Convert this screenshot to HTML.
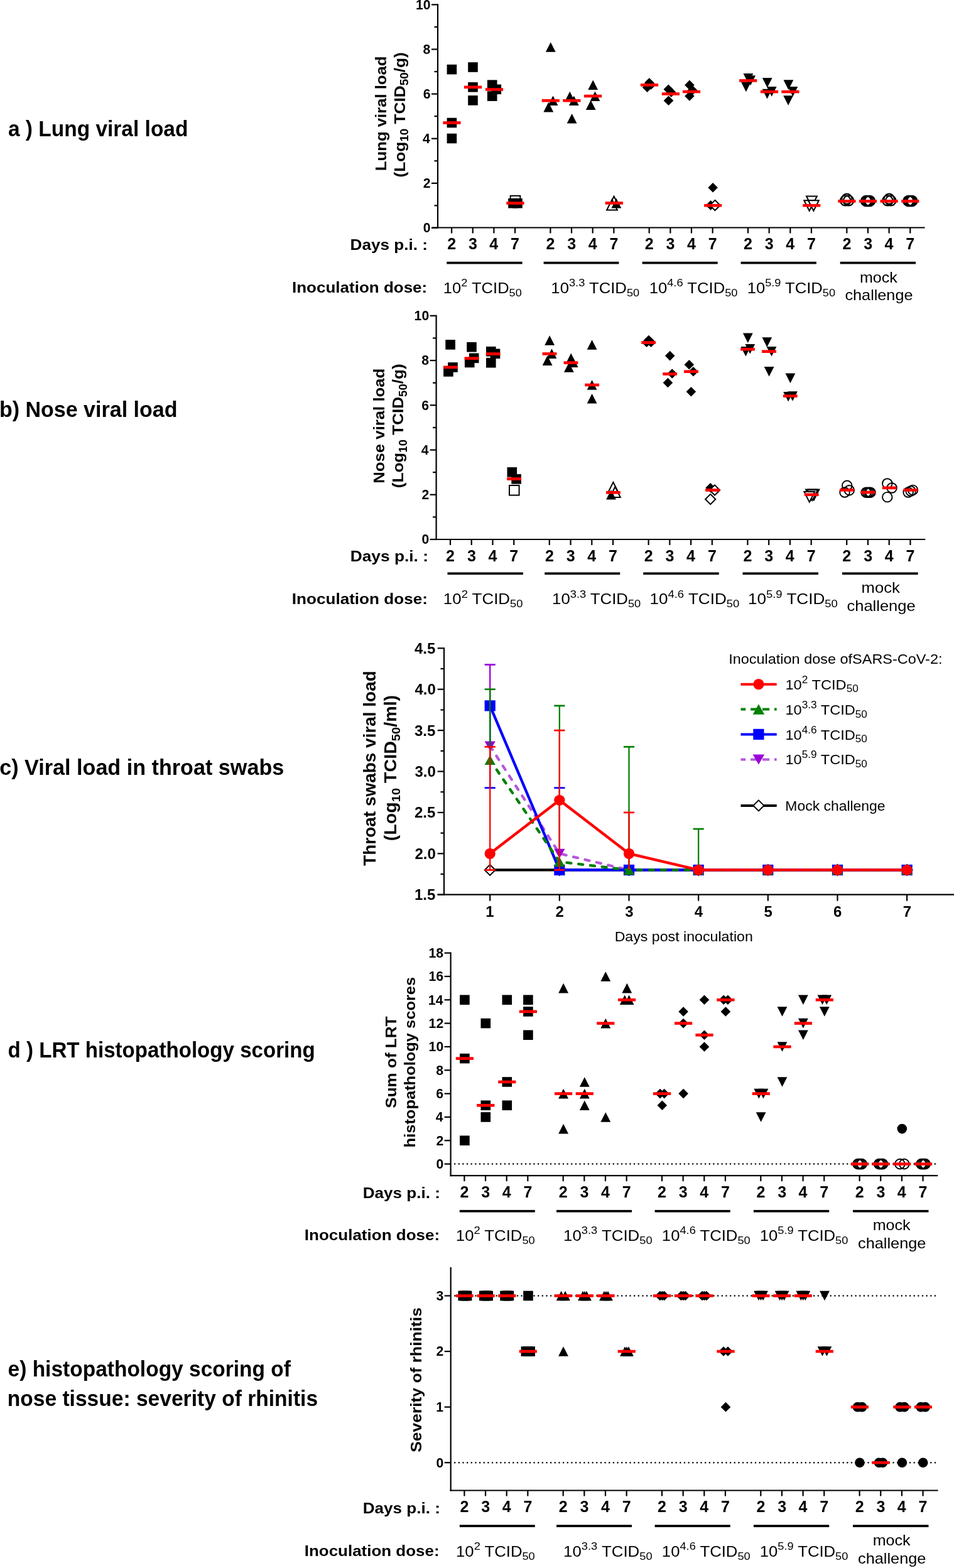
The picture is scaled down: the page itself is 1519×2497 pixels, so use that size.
<!DOCTYPE html>
<html><head><meta charset="utf-8"><title>Figure</title>
<style>
html,body{margin:0;padding:0;background:#fff;}
body{width:1519px;height:2497px;overflow:hidden;}
svg{display:block;}
svg text{font-family:"Liberation Sans", Arial, Helvetica, sans-serif;fill:#000;}
</style></head><body>
<svg width="1519" height="2497" viewBox="0 0 1519 2497">
<rect width="1519" height="2497" fill="#fff"/>
<text x="12.9" y="217.4" font-size="35" font-weight="bold" textLength="286.54" lengthAdjust="spacingAndGlyphs">a ) Lung viral load</text>
<text x="-1.11" y="663.8" font-size="35" font-weight="bold" textLength="283.64" lengthAdjust="spacingAndGlyphs">b) Nose viral load</text>
<text x="-0.77" y="1233.9" font-size="35" font-weight="bold" textLength="453.03" lengthAdjust="spacingAndGlyphs">c) Viral load in throat swabs</text>
<text x="12.58" y="1684" font-size="35" font-weight="bold" textLength="489.15" lengthAdjust="spacingAndGlyphs">d ) LRT histopathology scoring</text>
<text x="12.56" y="2192.3" font-size="35" font-weight="bold" textLength="450.43" lengthAdjust="spacingAndGlyphs">e) histopathology scoring of</text>
<text x="11.72" y="2239.1" font-size="35" font-weight="bold" textLength="494.39" lengthAdjust="spacingAndGlyphs">nose tissue: severity of rhinitis</text>
<line x1="697" y1="6.3" x2="697" y2="363.6" stroke="#000" stroke-width="2.2" />
<line x1="687" y1="362.5" x2="1472.6" y2="362.5" stroke="#000" stroke-width="2.2" />
<line x1="687" y1="362.9" x2="697" y2="362.9" stroke="#000" stroke-width="2.2" />
<text x="673.78" y="370.32" font-size="21.2" font-weight="bold" textLength="11.79" lengthAdjust="spacingAndGlyphs">0</text>
<line x1="687" y1="291.8" x2="697" y2="291.8" stroke="#000" stroke-width="2.2" />
<text x="673.78" y="299.22" font-size="21.2" font-weight="bold" textLength="11.79" lengthAdjust="spacingAndGlyphs">2</text>
<line x1="687" y1="220.7" x2="697" y2="220.7" stroke="#000" stroke-width="2.2" />
<text x="673.04" y="228.12" font-size="21.2" font-weight="bold" textLength="11.79" lengthAdjust="spacingAndGlyphs">4</text>
<line x1="687" y1="149.6" x2="697" y2="149.6" stroke="#000" stroke-width="2.2" />
<text x="673.68" y="157.02" font-size="21.2" font-weight="bold" textLength="11.79" lengthAdjust="spacingAndGlyphs">6</text>
<line x1="687" y1="78.5" x2="697" y2="78.5" stroke="#000" stroke-width="2.2" />
<text x="673.57" y="85.92" font-size="21.2" font-weight="bold" textLength="11.79" lengthAdjust="spacingAndGlyphs">8</text>
<line x1="687" y1="7.4" x2="697" y2="7.4" stroke="#000" stroke-width="2.2" />
<text x="662.02" y="14.82" font-size="21.2" font-weight="bold" textLength="23.58" lengthAdjust="spacingAndGlyphs">10</text>
<line x1="691.5" y1="327.35" x2="697" y2="327.35" stroke="#000" stroke-width="2.2" />
<line x1="691.5" y1="256.25" x2="697" y2="256.25" stroke="#000" stroke-width="2.2" />
<line x1="691.5" y1="185.15" x2="697" y2="185.15" stroke="#000" stroke-width="2.2" />
<line x1="691.5" y1="114.05" x2="697" y2="114.05" stroke="#000" stroke-width="2.2" />
<line x1="691.5" y1="42.95" x2="697" y2="42.95" stroke="#000" stroke-width="2.2" />
<line x1="719.1" y1="362.5" x2="719.1" y2="371.5" stroke="#000" stroke-width="2.2" />
<text x="712.23" y="397" font-size="25" font-weight="bold" textLength="13.9" lengthAdjust="spacingAndGlyphs">2</text>
<line x1="752.75" y1="362.5" x2="752.75" y2="371.5" stroke="#000" stroke-width="2.2" />
<text x="745.94" y="397" font-size="25" font-weight="bold" textLength="13.9" lengthAdjust="spacingAndGlyphs">3</text>
<line x1="786.4" y1="362.5" x2="786.4" y2="371.5" stroke="#000" stroke-width="2.2" />
<text x="779.34" y="397" font-size="25" font-weight="bold" textLength="13.9" lengthAdjust="spacingAndGlyphs">4</text>
<line x1="820.05" y1="362.5" x2="820.05" y2="371.5" stroke="#000" stroke-width="2.2" />
<text x="813.11" y="397" font-size="25" font-weight="bold" textLength="13.9" lengthAdjust="spacingAndGlyphs">7</text>
<line x1="876.4" y1="362.5" x2="876.4" y2="371.5" stroke="#000" stroke-width="2.2" />
<text x="869.53" y="397" font-size="25" font-weight="bold" textLength="13.9" lengthAdjust="spacingAndGlyphs">2</text>
<line x1="910.05" y1="362.5" x2="910.05" y2="371.5" stroke="#000" stroke-width="2.2" />
<text x="903.24" y="397" font-size="25" font-weight="bold" textLength="13.9" lengthAdjust="spacingAndGlyphs">3</text>
<line x1="943.7" y1="362.5" x2="943.7" y2="371.5" stroke="#000" stroke-width="2.2" />
<text x="936.64" y="397" font-size="25" font-weight="bold" textLength="13.9" lengthAdjust="spacingAndGlyphs">4</text>
<line x1="977.35" y1="362.5" x2="977.35" y2="371.5" stroke="#000" stroke-width="2.2" />
<text x="970.41" y="397" font-size="25" font-weight="bold" textLength="13.9" lengthAdjust="spacingAndGlyphs">7</text>
<line x1="1033.7" y1="362.5" x2="1033.7" y2="371.5" stroke="#000" stroke-width="2.2" />
<text x="1026.83" y="397" font-size="25" font-weight="bold" textLength="13.9" lengthAdjust="spacingAndGlyphs">2</text>
<line x1="1067.35" y1="362.5" x2="1067.35" y2="371.5" stroke="#000" stroke-width="2.2" />
<text x="1060.54" y="397" font-size="25" font-weight="bold" textLength="13.9" lengthAdjust="spacingAndGlyphs">3</text>
<line x1="1101" y1="362.5" x2="1101" y2="371.5" stroke="#000" stroke-width="2.2" />
<text x="1093.94" y="397" font-size="25" font-weight="bold" textLength="13.9" lengthAdjust="spacingAndGlyphs">4</text>
<line x1="1134.65" y1="362.5" x2="1134.65" y2="371.5" stroke="#000" stroke-width="2.2" />
<text x="1127.71" y="397" font-size="25" font-weight="bold" textLength="13.9" lengthAdjust="spacingAndGlyphs">7</text>
<line x1="1191" y1="362.5" x2="1191" y2="371.5" stroke="#000" stroke-width="2.2" />
<text x="1184.12" y="397" font-size="25" font-weight="bold" textLength="13.9" lengthAdjust="spacingAndGlyphs">2</text>
<line x1="1224.65" y1="362.5" x2="1224.65" y2="371.5" stroke="#000" stroke-width="2.2" />
<text x="1217.84" y="397" font-size="25" font-weight="bold" textLength="13.9" lengthAdjust="spacingAndGlyphs">3</text>
<line x1="1258.3" y1="362.5" x2="1258.3" y2="371.5" stroke="#000" stroke-width="2.2" />
<text x="1251.24" y="397" font-size="25" font-weight="bold" textLength="13.9" lengthAdjust="spacingAndGlyphs">4</text>
<line x1="1291.95" y1="362.5" x2="1291.95" y2="371.5" stroke="#000" stroke-width="2.2" />
<text x="1285.01" y="397" font-size="25" font-weight="bold" textLength="13.9" lengthAdjust="spacingAndGlyphs">7</text>
<line x1="1348.3" y1="362.5" x2="1348.3" y2="371.5" stroke="#000" stroke-width="2.2" />
<text x="1341.43" y="397" font-size="25" font-weight="bold" textLength="13.9" lengthAdjust="spacingAndGlyphs">2</text>
<line x1="1381.95" y1="362.5" x2="1381.95" y2="371.5" stroke="#000" stroke-width="2.2" />
<text x="1375.14" y="397" font-size="25" font-weight="bold" textLength="13.9" lengthAdjust="spacingAndGlyphs">3</text>
<line x1="1415.6" y1="362.5" x2="1415.6" y2="371.5" stroke="#000" stroke-width="2.2" />
<text x="1408.54" y="397" font-size="25" font-weight="bold" textLength="13.9" lengthAdjust="spacingAndGlyphs">4</text>
<line x1="1449.25" y1="362.5" x2="1449.25" y2="371.5" stroke="#000" stroke-width="2.2" />
<text x="1442.31" y="397" font-size="25" font-weight="bold" textLength="13.9" lengthAdjust="spacingAndGlyphs">7</text>
<text x="557.5" y="397.5" font-size="24" font-weight="bold" textLength="123.58" lengthAdjust="spacingAndGlyphs">Days p.i. :</text>
<rect x="711.3" y="416.75" width="120.3" height="3.7" fill="#000"/>
<rect x="865.6" y="416.75" width="119.8" height="3.7" fill="#000"/>
<rect x="1022.6" y="416.75" width="120.1" height="3.7" fill="#000"/>
<rect x="1179.6" y="416.75" width="120.3" height="3.7" fill="#000"/>
<rect x="1337.7" y="416.75" width="120.3" height="3.7" fill="#000"/>
<text x="465.01" y="466.4" font-size="24" font-weight="bold" textLength="215.24" lengthAdjust="spacingAndGlyphs">Inoculation dose:</text>
<text x="705.88" y="467" font-size="24" textLength="124.88" lengthAdjust="spacingAndGlyphs">10<tspan font-size="17" dy="-10.6">2</tspan><tspan dy="10.6"> TCID</tspan><tspan font-size="17" dy="5">50</tspan></text>
<text x="877.37" y="467" font-size="24" textLength="140.8" lengthAdjust="spacingAndGlyphs">10<tspan font-size="17" dy="-10.6">3.3</tspan><tspan dy="10.6"> TCID</tspan><tspan font-size="17" dy="5">50</tspan></text>
<text x="1033.67" y="467" font-size="24" textLength="140.8" lengthAdjust="spacingAndGlyphs">10<tspan font-size="17" dy="-10.6">4.6</tspan><tspan dy="10.6"> TCID</tspan><tspan font-size="17" dy="5">50</tspan></text>
<text x="1189.78" y="467" font-size="24" textLength="140.19" lengthAdjust="spacingAndGlyphs">10<tspan font-size="17" dy="-10.6">5.9</tspan><tspan dy="10.6"> TCID</tspan><tspan font-size="17" dy="5">50</tspan></text>
<text x="1368.97" y="449.6" font-size="24" textLength="59.91" lengthAdjust="spacingAndGlyphs">mock</text>
<text x="1345.46" y="477.5" font-size="24" textLength="108.01" lengthAdjust="spacingAndGlyphs">challenge</text>
<rect x="711.6" y="102.8" width="15.6" height="15.6" fill="#000"/>
<rect x="711.6" y="187.7" width="15.6" height="15.6" fill="#000"/>
<rect x="711.6" y="212.7" width="15.6" height="15.6" fill="#000"/>
<rect x="745.2" y="99.2" width="15.6" height="15.6" fill="#000"/>
<rect x="745.2" y="131" width="15.6" height="15.6" fill="#000"/>
<rect x="745.2" y="152.1" width="15.6" height="15.6" fill="#000"/>
<rect x="775.9" y="127.4" width="15.6" height="15.6" fill="#000"/>
<rect x="782.5" y="134.5" width="15.6" height="15.6" fill="#000"/>
<rect x="775.9" y="145.3" width="15.6" height="15.6" fill="#000"/>
<rect x="812.7" y="311.8" width="15.6" height="15.6" fill="#fff" stroke="#000" stroke-width="2.0"/>
<rect x="809.2" y="315.9" width="15.6" height="15.6" fill="#000"/>
<rect x="816.2" y="315.9" width="15.6" height="15.6" fill="#000"/>
<polygon points="876.8,67.2 884.7,82.8 868.9,82.8" fill="#000"/>
<polygon points="880.5,152.4 888.4,168 872.6,168" fill="#000"/>
<polygon points="873.3,162.8 881.2,178.4 865.4,178.4" fill="#000"/>
<polygon points="907.3,145.7 915.2,161.3 899.4,161.3" fill="#000"/>
<polygon points="913.8,152.4 921.7,168 905.9,168" fill="#000"/>
<polygon points="910.6,180.9 918.5,196.5 902.7,196.5" fill="#000"/>
<polygon points="944.2,127.5 952.1,143.1 936.3,143.1" fill="#000"/>
<polygon points="947.5,145.4 955.4,161 939.6,161" fill="#000"/>
<polygon points="940.7,159.4 948.6,175 932.8,175" fill="#000"/>
<polygon points="977.6,312.7 986,329.3 969.2,329.3" fill="#fff" stroke="#000" stroke-width="2.0" stroke-linejoin="miter"/>
<polygon points="974.5,318 982.9,334.6 966.1,334.6" fill="#fff" stroke="#000" stroke-width="2.0" stroke-linejoin="miter"/>
<polygon points="981.4,315.8 989.3,331.4 973.5,331.4" fill="#000"/>
<polygon points="1033.8,123.9 1041.6,131.7 1033.8,139.5 1026,131.7" fill="#000"/>
<polygon points="1030.5,131.4 1038.3,139.2 1030.5,147 1022.7,139.2" fill="#000"/>
<polygon points="1036.6,127.2 1044.4,135 1036.6,142.8 1028.8,135" fill="#000"/>
<polygon points="1064.3,134.5 1072.1,142.3 1064.3,150.1 1056.5,142.3" fill="#000"/>
<polygon points="1068.7,139.1 1076.5,146.9 1068.7,154.7 1060.9,146.9" fill="#000"/>
<polygon points="1064.5,152.4 1072.3,160.2 1064.5,168 1056.7,160.2" fill="#000"/>
<polygon points="1102.5,135.8 1110.3,143.6 1102.5,151.4 1094.7,143.6" fill="#000"/>
<polygon points="1097.9,127.6 1105.7,135.4 1097.9,143.2 1090.1,135.4" fill="#000"/>
<polygon points="1097.9,145.2 1105.7,153 1097.9,160.8 1090.1,153" fill="#000"/>
<polygon points="1135.1,290.9 1142.9,298.7 1135.1,306.5 1127.3,298.7" fill="#000"/>
<polygon points="1131.6,319.1 1139.4,326.9 1131.6,334.7 1123.8,326.9" fill="#000"/>
<polygon points="1138.5,318.8 1146.6,326.9 1138.5,335 1130.4,326.9" fill="#fff" stroke="#000" stroke-width="2.0"/>
<polygon points="1191.4,132.6 1199.3,117 1183.5,117" fill="#000"/>
<polygon points="1195.1,135.9 1203,120.3 1187.2,120.3" fill="#000"/>
<polygon points="1187.9,146.2 1195.8,130.6 1180,130.6" fill="#000"/>
<polygon points="1221.7,139.6 1229.6,124 1213.8,124" fill="#000"/>
<polygon points="1228.7,153.7 1236.6,138.1 1220.8,138.1" fill="#000"/>
<polygon points="1221.5,157.4 1229.4,141.8 1213.6,141.8" fill="#000"/>
<polygon points="1255.4,142.9 1263.3,127.3 1247.5,127.3" fill="#000"/>
<polygon points="1262.4,153.7 1270.3,138.1 1254.5,138.1" fill="#000"/>
<polygon points="1255.1,167.8 1263,152.2 1247.2,152.2" fill="#000"/>
<polygon points="1292.4,329 1300.8,312.4 1284,312.4" fill="#fff" stroke="#000" stroke-width="2.0" stroke-linejoin="miter"/>
<polygon points="1288.7,335.8 1297.1,319.2 1280.3,319.2" fill="#fff" stroke="#000" stroke-width="2.0" stroke-linejoin="miter"/>
<polygon points="1295.4,335.8 1303.8,319.2 1287,319.2" fill="#fff" stroke="#000" stroke-width="2.0" stroke-linejoin="miter"/>
<circle cx="1346.1" cy="319.4" r="8.1" fill="none" stroke="#000" stroke-width="2.2"/>
<circle cx="1351.1" cy="319.4" r="8.1" fill="none" stroke="#000" stroke-width="2.2"/>
<circle cx="1348.4" cy="316.8" r="8.1" fill="none" stroke="#000" stroke-width="2.2"/>
<circle cx="1379" cy="320" r="8.1" fill="none" stroke="#000" stroke-width="2.2"/>
<circle cx="1381" cy="320" r="8.1" fill="none" stroke="#000" stroke-width="2.2"/>
<circle cx="1383" cy="320" r="8.1" fill="none" stroke="#000" stroke-width="2.2"/>
<circle cx="1385" cy="320" r="8.1" fill="none" stroke="#000" stroke-width="2.2"/>
<circle cx="1413.3" cy="319.4" r="8.1" fill="none" stroke="#000" stroke-width="2.2"/>
<circle cx="1418.3" cy="319.4" r="8.1" fill="none" stroke="#000" stroke-width="2.2"/>
<circle cx="1415.7" cy="316.8" r="8.1" fill="none" stroke="#000" stroke-width="2.2"/>
<circle cx="1446.3" cy="320" r="8.1" fill="none" stroke="#000" stroke-width="2.2"/>
<circle cx="1448.3" cy="320" r="8.1" fill="none" stroke="#000" stroke-width="2.2"/>
<circle cx="1450.3" cy="320" r="8.1" fill="none" stroke="#000" stroke-width="2.2"/>
<circle cx="1452.3" cy="320" r="8.1" fill="none" stroke="#000" stroke-width="2.2"/>
<rect x="705.35" y="193.2" width="28.2" height="4.6" fill="#ff0000"/>
<rect x="738.9" y="136.5" width="28.2" height="4.6" fill="#ff0000"/>
<rect x="772.9" y="140.2" width="28.2" height="4.6" fill="#ff0000"/>
<rect x="806.3" y="321.2" width="28.2" height="4.6" fill="#ff0000"/>
<rect x="862.7" y="157.9" width="28.2" height="4.6" fill="#ff0000"/>
<rect x="896.3" y="157.9" width="28.2" height="4.6" fill="#ff0000"/>
<rect x="930" y="150.7" width="28.2" height="4.6" fill="#ff0000"/>
<rect x="963.7" y="321.1" width="28.2" height="4.6" fill="#ff0000"/>
<rect x="1019.9" y="133" width="28.2" height="4.6" fill="#ff0000"/>
<rect x="1053.8" y="147.2" width="28.2" height="4.6" fill="#ff0000"/>
<rect x="1086.9" y="143.7" width="28.2" height="4.6" fill="#ff0000"/>
<rect x="1121.1" y="324.9" width="28.2" height="4.6" fill="#ff0000"/>
<rect x="1177.1" y="126.1" width="28.2" height="4.6" fill="#ff0000"/>
<rect x="1210.9" y="143.8" width="28.2" height="4.6" fill="#ff0000"/>
<rect x="1244.3" y="143.8" width="28.2" height="4.6" fill="#ff0000"/>
<rect x="1278.1" y="324.9" width="28.2" height="4.6" fill="#ff0000"/>
<rect x="1334.35" y="318.1" width="28.2" height="4.6" fill="#ff0000"/>
<rect x="1367.9" y="318.1" width="28.2" height="4.6" fill="#ff0000"/>
<rect x="1401.5" y="318.1" width="28.2" height="4.6" fill="#ff0000"/>
<rect x="1435.2" y="318.1" width="28.2" height="4.6" fill="#ff0000"/>
<text x="615.1" y="272.17" font-size="23.5" font-weight="bold" transform="rotate(-90 615.1 272.17)" textLength="182.69" lengthAdjust="spacingAndGlyphs">Lung viral load</text>
<text x="644.8" y="282.51" font-size="24.5" font-weight="bold" transform="rotate(-90 644.8 282.51)" textLength="199.34" lengthAdjust="spacingAndGlyphs">(Log<tspan font-size="17.5" dy="5.5">10</tspan><tspan dy="-5.5"> TCID</tspan><tspan font-size="17.5" dy="5.5">50</tspan><tspan dy="-5.5">/g)</tspan></text>
<line x1="694.6" y1="501.7" x2="694.6" y2="860.1" stroke="#000" stroke-width="2.2" />
<line x1="685" y1="859" x2="1473.3" y2="859" stroke="#000" stroke-width="2.2" />
<line x1="684.6" y1="859" x2="694.6" y2="859" stroke="#000" stroke-width="2.2" />
<text x="671.38" y="866.42" font-size="21.2" font-weight="bold" textLength="11.79" lengthAdjust="spacingAndGlyphs">0</text>
<line x1="684.6" y1="787.76" x2="694.6" y2="787.76" stroke="#000" stroke-width="2.2" />
<text x="671.38" y="795.18" font-size="21.2" font-weight="bold" textLength="11.79" lengthAdjust="spacingAndGlyphs">2</text>
<line x1="684.6" y1="716.52" x2="694.6" y2="716.52" stroke="#000" stroke-width="2.2" />
<text x="670.64" y="723.94" font-size="21.2" font-weight="bold" textLength="11.79" lengthAdjust="spacingAndGlyphs">4</text>
<line x1="684.6" y1="645.28" x2="694.6" y2="645.28" stroke="#000" stroke-width="2.2" />
<text x="671.28" y="652.7" font-size="21.2" font-weight="bold" textLength="11.79" lengthAdjust="spacingAndGlyphs">6</text>
<line x1="684.6" y1="574.04" x2="694.6" y2="574.04" stroke="#000" stroke-width="2.2" />
<text x="671.17" y="581.46" font-size="21.2" font-weight="bold" textLength="11.79" lengthAdjust="spacingAndGlyphs">8</text>
<line x1="684.6" y1="502.8" x2="694.6" y2="502.8" stroke="#000" stroke-width="2.2" />
<text x="659.62" y="510.22" font-size="21.2" font-weight="bold" textLength="23.58" lengthAdjust="spacingAndGlyphs">10</text>
<line x1="689.1" y1="823.38" x2="694.6" y2="823.38" stroke="#000" stroke-width="2.2" />
<line x1="689.1" y1="752.14" x2="694.6" y2="752.14" stroke="#000" stroke-width="2.2" />
<line x1="689.1" y1="680.9" x2="694.6" y2="680.9" stroke="#000" stroke-width="2.2" />
<line x1="689.1" y1="609.66" x2="694.6" y2="609.66" stroke="#000" stroke-width="2.2" />
<line x1="689.1" y1="538.42" x2="694.6" y2="538.42" stroke="#000" stroke-width="2.2" />
<line x1="717" y1="859" x2="717" y2="868" stroke="#000" stroke-width="2.2" />
<text x="710.12" y="893.5" font-size="25" font-weight="bold" textLength="13.9" lengthAdjust="spacingAndGlyphs">2</text>
<line x1="750.75" y1="859" x2="750.75" y2="868" stroke="#000" stroke-width="2.2" />
<text x="743.94" y="893.5" font-size="25" font-weight="bold" textLength="13.9" lengthAdjust="spacingAndGlyphs">3</text>
<line x1="784.5" y1="859" x2="784.5" y2="868" stroke="#000" stroke-width="2.2" />
<text x="777.44" y="893.5" font-size="25" font-weight="bold" textLength="13.9" lengthAdjust="spacingAndGlyphs">4</text>
<line x1="818.25" y1="859" x2="818.25" y2="868" stroke="#000" stroke-width="2.2" />
<text x="811.31" y="893.5" font-size="25" font-weight="bold" textLength="13.9" lengthAdjust="spacingAndGlyphs">7</text>
<line x1="874.8" y1="859" x2="874.8" y2="868" stroke="#000" stroke-width="2.2" />
<text x="867.92" y="893.5" font-size="25" font-weight="bold" textLength="13.9" lengthAdjust="spacingAndGlyphs">2</text>
<line x1="908.55" y1="859" x2="908.55" y2="868" stroke="#000" stroke-width="2.2" />
<text x="901.74" y="893.5" font-size="25" font-weight="bold" textLength="13.9" lengthAdjust="spacingAndGlyphs">3</text>
<line x1="942.3" y1="859" x2="942.3" y2="868" stroke="#000" stroke-width="2.2" />
<text x="935.24" y="893.5" font-size="25" font-weight="bold" textLength="13.9" lengthAdjust="spacingAndGlyphs">4</text>
<line x1="976.05" y1="859" x2="976.05" y2="868" stroke="#000" stroke-width="2.2" />
<text x="969.11" y="893.5" font-size="25" font-weight="bold" textLength="13.9" lengthAdjust="spacingAndGlyphs">7</text>
<line x1="1032.6" y1="859" x2="1032.6" y2="868" stroke="#000" stroke-width="2.2" />
<text x="1025.72" y="893.5" font-size="25" font-weight="bold" textLength="13.9" lengthAdjust="spacingAndGlyphs">2</text>
<line x1="1066.35" y1="859" x2="1066.35" y2="868" stroke="#000" stroke-width="2.2" />
<text x="1059.54" y="893.5" font-size="25" font-weight="bold" textLength="13.9" lengthAdjust="spacingAndGlyphs">3</text>
<line x1="1100.1" y1="859" x2="1100.1" y2="868" stroke="#000" stroke-width="2.2" />
<text x="1093.04" y="893.5" font-size="25" font-weight="bold" textLength="13.9" lengthAdjust="spacingAndGlyphs">4</text>
<line x1="1133.85" y1="859" x2="1133.85" y2="868" stroke="#000" stroke-width="2.2" />
<text x="1126.91" y="893.5" font-size="25" font-weight="bold" textLength="13.9" lengthAdjust="spacingAndGlyphs">7</text>
<line x1="1190.4" y1="859" x2="1190.4" y2="868" stroke="#000" stroke-width="2.2" />
<text x="1183.53" y="893.5" font-size="25" font-weight="bold" textLength="13.9" lengthAdjust="spacingAndGlyphs">2</text>
<line x1="1224.15" y1="859" x2="1224.15" y2="868" stroke="#000" stroke-width="2.2" />
<text x="1217.34" y="893.5" font-size="25" font-weight="bold" textLength="13.9" lengthAdjust="spacingAndGlyphs">3</text>
<line x1="1257.9" y1="859" x2="1257.9" y2="868" stroke="#000" stroke-width="2.2" />
<text x="1250.84" y="893.5" font-size="25" font-weight="bold" textLength="13.9" lengthAdjust="spacingAndGlyphs">4</text>
<line x1="1291.65" y1="859" x2="1291.65" y2="868" stroke="#000" stroke-width="2.2" />
<text x="1284.71" y="893.5" font-size="25" font-weight="bold" textLength="13.9" lengthAdjust="spacingAndGlyphs">7</text>
<line x1="1348.2" y1="859" x2="1348.2" y2="868" stroke="#000" stroke-width="2.2" />
<text x="1341.33" y="893.5" font-size="25" font-weight="bold" textLength="13.9" lengthAdjust="spacingAndGlyphs">2</text>
<line x1="1381.95" y1="859" x2="1381.95" y2="868" stroke="#000" stroke-width="2.2" />
<text x="1375.14" y="893.5" font-size="25" font-weight="bold" textLength="13.9" lengthAdjust="spacingAndGlyphs">3</text>
<line x1="1415.7" y1="859" x2="1415.7" y2="868" stroke="#000" stroke-width="2.2" />
<text x="1408.64" y="893.5" font-size="25" font-weight="bold" textLength="13.9" lengthAdjust="spacingAndGlyphs">4</text>
<line x1="1449.45" y1="859" x2="1449.45" y2="868" stroke="#000" stroke-width="2.2" />
<text x="1442.51" y="893.5" font-size="25" font-weight="bold" textLength="13.9" lengthAdjust="spacingAndGlyphs">7</text>
<text x="557.69" y="893.5" font-size="24" font-weight="bold" textLength="124.31" lengthAdjust="spacingAndGlyphs">Days p.i. :</text>
<rect x="712.5" y="911.45" width="120.4" height="3.7" fill="#000"/>
<rect x="867.2" y="911.45" width="120" height="3.7" fill="#000"/>
<rect x="1024.2" y="911.45" width="120.5" height="3.7" fill="#000"/>
<rect x="1182.5" y="911.45" width="120.5" height="3.7" fill="#000"/>
<rect x="1341" y="911.45" width="120.6" height="3.7" fill="#000"/>
<text x="464.8" y="961.8" font-size="24" font-weight="bold" textLength="216.06" lengthAdjust="spacingAndGlyphs">Inoculation dose:</text>
<text x="705.86" y="962.4" font-size="24" textLength="126.62" lengthAdjust="spacingAndGlyphs">10<tspan font-size="17" dy="-10.6">2</tspan><tspan dy="10.6"> TCID</tspan><tspan font-size="17" dy="5">50</tspan></text>
<text x="879.07" y="962.4" font-size="24" textLength="141.21" lengthAdjust="spacingAndGlyphs">10<tspan font-size="17" dy="-10.6">3.3</tspan><tspan dy="10.6"> TCID</tspan><tspan font-size="17" dy="5">50</tspan></text>
<text x="1034.44" y="962.4" font-size="24" textLength="142.94" lengthAdjust="spacingAndGlyphs">10<tspan font-size="17" dy="-10.6">4.6</tspan><tspan dy="10.6"> TCID</tspan><tspan font-size="17" dy="5">50</tspan></text>
<text x="1190.94" y="962.4" font-size="24" textLength="142.94" lengthAdjust="spacingAndGlyphs">10<tspan font-size="17" dy="-10.6">5.9</tspan><tspan dy="10.6"> TCID</tspan><tspan font-size="17" dy="5">50</tspan></text>
<text x="1371.64" y="944.3" font-size="24" textLength="61.14" lengthAdjust="spacingAndGlyphs">mock</text>
<text x="1348.55" y="973.2" font-size="24" textLength="109.03" lengthAdjust="spacingAndGlyphs">challenge</text>
<rect x="709.3" y="541.1" width="15.6" height="15.6" fill="#000"/>
<rect x="713.2" y="577.1" width="15.6" height="15.6" fill="#000"/>
<rect x="706.1" y="584.1" width="15.6" height="15.6" fill="#000"/>
<rect x="743.2" y="544.9" width="15.6" height="15.6" fill="#000"/>
<rect x="746.9" y="562.5" width="15.6" height="15.6" fill="#000"/>
<rect x="739.9" y="569.6" width="15.6" height="15.6" fill="#000"/>
<rect x="774" y="551.9" width="15.6" height="15.6" fill="#000"/>
<rect x="780.7" y="555.5" width="15.6" height="15.6" fill="#000"/>
<rect x="774" y="569.9" width="15.6" height="15.6" fill="#000"/>
<rect x="807.5" y="744.1" width="15.6" height="15.6" fill="#000"/>
<rect x="814.3" y="755.1" width="15.6" height="15.6" fill="#000"/>
<rect x="811" y="773" width="15.6" height="15.6" fill="#fff" stroke="#000" stroke-width="2.0"/>
<polygon points="875.1,534.2 883,549.8 867.2,549.8" fill="#000"/>
<polygon points="878.5,555.3 886.4,570.9 870.6,570.9" fill="#000"/>
<polygon points="871.6,566.3 879.5,581.9 863.7,581.9" fill="#000"/>
<polygon points="909.2,562.6 917.1,578.2 901.3,578.2" fill="#000"/>
<polygon points="912.7,569.5 920.6,585.1 904.8,585.1" fill="#000"/>
<polygon points="905.9,577.2 913.8,592.8 898,592.8" fill="#000"/>
<polygon points="942.6,541.2 950.5,556.8 934.7,556.8" fill="#000"/>
<polygon points="942.6,605.2 950.5,620.8 934.7,620.8" fill="#000"/>
<polygon points="942.6,627 950.5,642.6 934.7,642.6" fill="#000"/>
<polygon points="976.4,767.9 984.8,784.5 968,784.5" fill="#fff" stroke="#000" stroke-width="2.0" stroke-linejoin="miter"/>
<polygon points="979.4,775.3 987.8,791.9 971,791.9" fill="#fff" stroke="#000" stroke-width="2.0" stroke-linejoin="miter"/>
<polygon points="973,780 980.9,795.6 965.1,795.6" fill="#000"/>
<polygon points="1032.9,533.8 1040.7,541.6 1032.9,549.4 1025.1,541.6" fill="#000"/>
<polygon points="1029.6,537.5 1037.4,545.3 1029.6,553.1 1021.8,545.3" fill="#000"/>
<polygon points="1036.6,537.5 1044.4,545.3 1036.6,553.1 1028.8,545.3" fill="#000"/>
<polygon points="1066.7,558.8 1074.5,566.6 1066.7,574.4 1058.9,566.6" fill="#000"/>
<polygon points="1070.2,587.2 1078,595 1070.2,602.8 1062.4,595" fill="#000"/>
<polygon points="1063.4,601.7 1071.2,609.5 1063.4,617.3 1055.6,609.5" fill="#000"/>
<polygon points="1097.3,573 1105.1,580.8 1097.3,588.6 1089.5,580.8" fill="#000"/>
<polygon points="1103.9,584 1111.7,591.8 1103.9,599.6 1096.1,591.8" fill="#000"/>
<polygon points="1100.4,615.9 1108.2,623.7 1100.4,631.5 1092.6,623.7" fill="#000"/>
<polygon points="1131.2,768.9 1139,776.7 1131.2,784.5 1123.4,776.7" fill="#000"/>
<polygon points="1138,772.4 1146.1,780.5 1138,788.6 1129.9,780.5" fill="#fff" stroke="#000" stroke-width="2.0"/>
<polygon points="1131.2,786.9 1139.3,795 1131.2,803.1 1123.1,795" fill="#fff" stroke="#000" stroke-width="2.0"/>
<polygon points="1190.8,546 1198.7,530.4 1182.9,530.4" fill="#000"/>
<polygon points="1194.3,563.6 1202.2,548 1186.4,548" fill="#000"/>
<polygon points="1187.4,567.6 1195.3,552 1179.5,552" fill="#000"/>
<polygon points="1221.3,552.8 1229.2,537.2 1213.4,537.2" fill="#000"/>
<polygon points="1228.5,567.5 1236.4,551.9 1220.6,551.9" fill="#000"/>
<polygon points="1224.6,599.5 1232.5,583.9 1216.7,583.9" fill="#000"/>
<polygon points="1258.4,610.2 1266.3,594.6 1250.5,594.6" fill="#000"/>
<polygon points="1262,638.8 1269.9,623.2 1254.1,623.2" fill="#000"/>
<polygon points="1255.1,639.5 1263,623.9 1247.2,623.9" fill="#000"/>
<polygon points="1291.5,796.2 1299.9,779.6 1283.1,779.6" fill="#fff" stroke="#000" stroke-width="2.0" stroke-linejoin="miter"/>
<polygon points="1295.9,796.2 1304.3,779.6 1287.5,779.6" fill="#fff" stroke="#000" stroke-width="2.0" stroke-linejoin="miter"/>
<polygon points="1293.5,796.8 1301.9,780.2 1285.1,780.2" fill="#fff" stroke="#000" stroke-width="2.0" stroke-linejoin="miter"/>
<polygon points="1288.8,799.6 1297.2,783 1280.4,783" fill="#fff" stroke="#000" stroke-width="2.0" stroke-linejoin="miter"/>
<circle cx="1348.7" cy="773.3" r="7.75" fill="none" stroke="#000" stroke-width="1.9"/>
<circle cx="1352.3" cy="780.7" r="7.75" fill="none" stroke="#000" stroke-width="1.9"/>
<circle cx="1345" cy="784" r="7.75" fill="none" stroke="#000" stroke-width="1.9"/>
<circle cx="1379" cy="784.2" r="7.75" fill="none" stroke="#000" stroke-width="1.9"/>
<circle cx="1381.5" cy="784.2" r="7.75" fill="none" stroke="#000" stroke-width="1.9"/>
<circle cx="1384" cy="784.2" r="7.75" fill="none" stroke="#000" stroke-width="1.9"/>
<circle cx="1386" cy="784.2" r="7.75" fill="none" stroke="#000" stroke-width="1.9"/>
<circle cx="1412.8" cy="770" r="7.75" fill="none" stroke="#000" stroke-width="1.9"/>
<circle cx="1420.1" cy="777" r="7.75" fill="none" stroke="#000" stroke-width="1.9"/>
<circle cx="1412.8" cy="791.6" r="7.75" fill="none" stroke="#000" stroke-width="1.9"/>
<circle cx="1453.5" cy="780.4" r="7.75" fill="none" stroke="#000" stroke-width="1.9"/>
<circle cx="1446.1" cy="784" r="7.75" fill="none" stroke="#000" stroke-width="1.9"/>
<circle cx="1450.1" cy="782" r="7.75" fill="none" stroke="#000" stroke-width="1.9"/>
<rect x="705.9" y="582.5" width="22.8" height="4.6" fill="#ff0000"/>
<rect x="739.6" y="568.3" width="22.8" height="4.6" fill="#ff0000"/>
<rect x="773.7" y="561.2" width="22.8" height="4.6" fill="#ff0000"/>
<rect x="807.2" y="760.3" width="22.8" height="4.6" fill="#ff0000"/>
<rect x="863.6" y="561.1" width="22.8" height="4.6" fill="#ff0000"/>
<rect x="897.6" y="575.3" width="22.8" height="4.6" fill="#ff0000"/>
<rect x="931.3" y="610.7" width="22.8" height="4.6" fill="#ff0000"/>
<rect x="965" y="782" width="22.8" height="4.6" fill="#ff0000"/>
<rect x="1021.2" y="543.2" width="22.8" height="4.6" fill="#ff0000"/>
<rect x="1055.3" y="593.2" width="22.8" height="4.6" fill="#ff0000"/>
<rect x="1089.1" y="589.4" width="22.8" height="4.6" fill="#ff0000"/>
<rect x="1123.1" y="778.2" width="22.8" height="4.6" fill="#ff0000"/>
<rect x="1179.1" y="553.9" width="22.8" height="4.6" fill="#ff0000"/>
<rect x="1213.1" y="557.4" width="22.8" height="4.6" fill="#ff0000"/>
<rect x="1246.9" y="628.3" width="22.8" height="4.6" fill="#ff0000"/>
<rect x="1280.8" y="785.4" width="22.8" height="4.6" fill="#ff0000"/>
<rect x="1337" y="778.1" width="22.8" height="4.6" fill="#ff0000"/>
<rect x="1370.6" y="781.7" width="22.8" height="4.6" fill="#ff0000"/>
<rect x="1404.8" y="774.6" width="22.8" height="4.6" fill="#ff0000"/>
<rect x="1438.5" y="778.1" width="22.8" height="4.6" fill="#ff0000"/>
<text x="612.5" y="769.77" font-size="23.5" font-weight="bold" transform="rotate(-90 612.5 769.77)" textLength="183.12" lengthAdjust="spacingAndGlyphs">Nose viral load</text>
<text x="642.1" y="777.2" font-size="24.5" font-weight="bold" transform="rotate(-90 642.1 777.2)" textLength="197.92" lengthAdjust="spacingAndGlyphs">(Log<tspan font-size="17.5" dy="5.5">10</tspan><tspan dy="-5.5"> TCID</tspan><tspan font-size="17.5" dy="5.5">50</tspan><tspan dy="-5.5">/g)</tspan></text>
<line x1="717.6" y1="1516.49" x2="717.6" y2="1873.2" stroke="#000" stroke-width="2.2" />
<line x1="716.5" y1="1872.1" x2="1493.2" y2="1872.1" stroke="#000" stroke-width="2.2" />
<line x1="707.6" y1="1853.6" x2="717.6" y2="1853.6" stroke="#000" stroke-width="2.2" />
<text x="694.38" y="1861.02" font-size="21.2" font-weight="bold" textLength="11.79" lengthAdjust="spacingAndGlyphs">0</text>
<line x1="707.6" y1="1816.27" x2="717.6" y2="1816.27" stroke="#000" stroke-width="2.2" />
<text x="694.38" y="1823.69" font-size="21.2" font-weight="bold" textLength="11.79" lengthAdjust="spacingAndGlyphs">2</text>
<line x1="707.6" y1="1778.93" x2="717.6" y2="1778.93" stroke="#000" stroke-width="2.2" />
<text x="693.64" y="1786.35" font-size="21.2" font-weight="bold" textLength="11.79" lengthAdjust="spacingAndGlyphs">4</text>
<line x1="707.6" y1="1741.6" x2="717.6" y2="1741.6" stroke="#000" stroke-width="2.2" />
<text x="694.28" y="1749.02" font-size="21.2" font-weight="bold" textLength="11.79" lengthAdjust="spacingAndGlyphs">6</text>
<line x1="707.6" y1="1704.26" x2="717.6" y2="1704.26" stroke="#000" stroke-width="2.2" />
<text x="694.17" y="1711.68" font-size="21.2" font-weight="bold" textLength="11.79" lengthAdjust="spacingAndGlyphs">8</text>
<line x1="707.6" y1="1666.93" x2="717.6" y2="1666.93" stroke="#000" stroke-width="2.2" />
<text x="682.62" y="1674.35" font-size="21.2" font-weight="bold" textLength="23.58" lengthAdjust="spacingAndGlyphs">10</text>
<line x1="707.6" y1="1629.6" x2="717.6" y2="1629.6" stroke="#000" stroke-width="2.2" />
<text x="682.62" y="1637.02" font-size="21.2" font-weight="bold" textLength="23.58" lengthAdjust="spacingAndGlyphs">12</text>
<line x1="707.6" y1="1592.26" x2="717.6" y2="1592.26" stroke="#000" stroke-width="2.2" />
<text x="681.87" y="1599.68" font-size="21.2" font-weight="bold" textLength="23.58" lengthAdjust="spacingAndGlyphs">14</text>
<line x1="707.6" y1="1554.93" x2="717.6" y2="1554.93" stroke="#000" stroke-width="2.2" />
<text x="682.51" y="1562.35" font-size="21.2" font-weight="bold" textLength="23.58" lengthAdjust="spacingAndGlyphs">16</text>
<line x1="707.6" y1="1517.59" x2="717.6" y2="1517.59" stroke="#000" stroke-width="2.2" />
<text x="682.4" y="1525.01" font-size="21.2" font-weight="bold" textLength="23.58" lengthAdjust="spacingAndGlyphs">18</text>
<line x1="739.4" y1="1872.1" x2="739.4" y2="1881.1" stroke="#000" stroke-width="2.2" />
<text x="732.52" y="1906.6" font-size="25" font-weight="bold" textLength="13.9" lengthAdjust="spacingAndGlyphs">2</text>
<line x1="773.05" y1="1872.1" x2="773.05" y2="1881.1" stroke="#000" stroke-width="2.2" />
<text x="766.24" y="1906.6" font-size="25" font-weight="bold" textLength="13.9" lengthAdjust="spacingAndGlyphs">3</text>
<line x1="806.7" y1="1872.1" x2="806.7" y2="1881.1" stroke="#000" stroke-width="2.2" />
<text x="799.64" y="1906.6" font-size="25" font-weight="bold" textLength="13.9" lengthAdjust="spacingAndGlyphs">4</text>
<line x1="840.35" y1="1872.1" x2="840.35" y2="1881.1" stroke="#000" stroke-width="2.2" />
<text x="833.41" y="1906.6" font-size="25" font-weight="bold" textLength="13.9" lengthAdjust="spacingAndGlyphs">7</text>
<line x1="896.7" y1="1872.1" x2="896.7" y2="1881.1" stroke="#000" stroke-width="2.2" />
<text x="889.83" y="1906.6" font-size="25" font-weight="bold" textLength="13.9" lengthAdjust="spacingAndGlyphs">2</text>
<line x1="930.35" y1="1872.1" x2="930.35" y2="1881.1" stroke="#000" stroke-width="2.2" />
<text x="923.54" y="1906.6" font-size="25" font-weight="bold" textLength="13.9" lengthAdjust="spacingAndGlyphs">3</text>
<line x1="964" y1="1872.1" x2="964" y2="1881.1" stroke="#000" stroke-width="2.2" />
<text x="956.94" y="1906.6" font-size="25" font-weight="bold" textLength="13.9" lengthAdjust="spacingAndGlyphs">4</text>
<line x1="997.65" y1="1872.1" x2="997.65" y2="1881.1" stroke="#000" stroke-width="2.2" />
<text x="990.71" y="1906.6" font-size="25" font-weight="bold" textLength="13.9" lengthAdjust="spacingAndGlyphs">7</text>
<line x1="1054" y1="1872.1" x2="1054" y2="1881.1" stroke="#000" stroke-width="2.2" />
<text x="1047.12" y="1906.6" font-size="25" font-weight="bold" textLength="13.9" lengthAdjust="spacingAndGlyphs">2</text>
<line x1="1087.65" y1="1872.1" x2="1087.65" y2="1881.1" stroke="#000" stroke-width="2.2" />
<text x="1080.84" y="1906.6" font-size="25" font-weight="bold" textLength="13.9" lengthAdjust="spacingAndGlyphs">3</text>
<line x1="1121.3" y1="1872.1" x2="1121.3" y2="1881.1" stroke="#000" stroke-width="2.2" />
<text x="1114.24" y="1906.6" font-size="25" font-weight="bold" textLength="13.9" lengthAdjust="spacingAndGlyphs">4</text>
<line x1="1154.95" y1="1872.1" x2="1154.95" y2="1881.1" stroke="#000" stroke-width="2.2" />
<text x="1148.01" y="1906.6" font-size="25" font-weight="bold" textLength="13.9" lengthAdjust="spacingAndGlyphs">7</text>
<line x1="1211.3" y1="1872.1" x2="1211.3" y2="1881.1" stroke="#000" stroke-width="2.2" />
<text x="1204.42" y="1906.6" font-size="25" font-weight="bold" textLength="13.9" lengthAdjust="spacingAndGlyphs">2</text>
<line x1="1244.95" y1="1872.1" x2="1244.95" y2="1881.1" stroke="#000" stroke-width="2.2" />
<text x="1238.14" y="1906.6" font-size="25" font-weight="bold" textLength="13.9" lengthAdjust="spacingAndGlyphs">3</text>
<line x1="1278.6" y1="1872.1" x2="1278.6" y2="1881.1" stroke="#000" stroke-width="2.2" />
<text x="1271.54" y="1906.6" font-size="25" font-weight="bold" textLength="13.9" lengthAdjust="spacingAndGlyphs">4</text>
<line x1="1312.25" y1="1872.1" x2="1312.25" y2="1881.1" stroke="#000" stroke-width="2.2" />
<text x="1305.31" y="1906.6" font-size="25" font-weight="bold" textLength="13.9" lengthAdjust="spacingAndGlyphs">7</text>
<line x1="1368.6" y1="1872.1" x2="1368.6" y2="1881.1" stroke="#000" stroke-width="2.2" />
<text x="1361.72" y="1906.6" font-size="25" font-weight="bold" textLength="13.9" lengthAdjust="spacingAndGlyphs">2</text>
<line x1="1402.25" y1="1872.1" x2="1402.25" y2="1881.1" stroke="#000" stroke-width="2.2" />
<text x="1395.44" y="1906.6" font-size="25" font-weight="bold" textLength="13.9" lengthAdjust="spacingAndGlyphs">3</text>
<line x1="1435.9" y1="1872.1" x2="1435.9" y2="1881.1" stroke="#000" stroke-width="2.2" />
<text x="1428.84" y="1906.6" font-size="25" font-weight="bold" textLength="13.9" lengthAdjust="spacingAndGlyphs">4</text>
<line x1="1469.55" y1="1872.1" x2="1469.55" y2="1881.1" stroke="#000" stroke-width="2.2" />
<text x="1462.61" y="1906.6" font-size="25" font-weight="bold" textLength="13.9" lengthAdjust="spacingAndGlyphs">7</text>
<text x="577.7" y="1908" font-size="24" font-weight="bold" textLength="123.27" lengthAdjust="spacingAndGlyphs">Days p.i. :</text>
<rect x="731.8" y="1926.85" width="120" height="3.7" fill="#000"/>
<rect x="886" y="1926.85" width="120" height="3.7" fill="#000"/>
<rect x="1042.6" y="1926.85" width="120.1" height="3.7" fill="#000"/>
<rect x="1199.9" y="1926.85" width="120.3" height="3.7" fill="#000"/>
<rect x="1358" y="1926.85" width="120.5" height="3.7" fill="#000"/>
<text x="484.81" y="1975.4" font-size="24" font-weight="bold" textLength="215.34" lengthAdjust="spacingAndGlyphs">Inoculation dose:</text>
<text x="725.87" y="1976" font-size="24" textLength="125.9" lengthAdjust="spacingAndGlyphs">10<tspan font-size="17" dy="-10.6">2</tspan><tspan dy="10.6"> TCID</tspan><tspan font-size="17" dy="5">50</tspan></text>
<text x="897.06" y="1976" font-size="24" textLength="141.61" lengthAdjust="spacingAndGlyphs">10<tspan font-size="17" dy="-10.6">3.3</tspan><tspan dy="10.6"> TCID</tspan><tspan font-size="17" dy="5">50</tspan></text>
<text x="1053.87" y="1976" font-size="24" textLength="140.8" lengthAdjust="spacingAndGlyphs">10<tspan font-size="17" dy="-10.6">4.6</tspan><tspan dy="10.6"> TCID</tspan><tspan font-size="17" dy="5">50</tspan></text>
<text x="1209.78" y="1976" font-size="24" textLength="140.59" lengthAdjust="spacingAndGlyphs">10<tspan font-size="17" dy="-10.6">5.9</tspan><tspan dy="10.6"> TCID</tspan><tspan font-size="17" dy="5">50</tspan></text>
<text x="1389.77" y="1959.2" font-size="24" textLength="59.81" lengthAdjust="spacingAndGlyphs">mock</text>
<text x="1366.06" y="1988.1" font-size="24" textLength="108.41" lengthAdjust="spacingAndGlyphs">challenge</text>
<line x1="724.1" y1="1853.6" x2="1490" y2="1853.6" stroke="#000" stroke-width="2.5" stroke-linecap="round" stroke-dasharray="0 6.65"/>
<rect x="732.1" y="1584.46" width="15.6" height="15.6" fill="#000"/>
<rect x="732.1" y="1677.8" width="15.6" height="15.6" fill="#000"/>
<rect x="732.1" y="1808.47" width="15.6" height="15.6" fill="#000"/>
<rect x="765.5" y="1621.8" width="15.6" height="15.6" fill="#000"/>
<rect x="765.5" y="1752.46" width="15.6" height="15.6" fill="#000"/>
<rect x="765.5" y="1771.13" width="15.6" height="15.6" fill="#000"/>
<rect x="799.5" y="1584.46" width="15.6" height="15.6" fill="#000"/>
<rect x="799.5" y="1715.13" width="15.6" height="15.6" fill="#000"/>
<rect x="799.5" y="1752.46" width="15.6" height="15.6" fill="#000"/>
<rect x="833.1" y="1584.46" width="15.6" height="15.6" fill="#000"/>
<rect x="833.1" y="1603.13" width="15.6" height="15.6" fill="#000"/>
<rect x="833.1" y="1640.46" width="15.6" height="15.6" fill="#000"/>
<polygon points="897.1,1565.79 905,1581.39 889.2,1581.39" fill="#000"/>
<polygon points="897.1,1733.8 905,1749.4 889.2,1749.4" fill="#000"/>
<polygon points="897.1,1789.8 905,1805.4 889.2,1805.4" fill="#000"/>
<polygon points="930.8,1715.13 938.7,1730.73 922.9,1730.73" fill="#000"/>
<polygon points="930.8,1733.8 938.7,1749.4 922.9,1749.4" fill="#000"/>
<polygon points="930.8,1752.46 938.7,1768.06 922.9,1768.06" fill="#000"/>
<polygon points="964.3,1547.13 972.2,1562.73 956.4,1562.73" fill="#000"/>
<polygon points="964.3,1621.8 972.2,1637.4 956.4,1637.4" fill="#000"/>
<polygon points="964.3,1771.13 972.2,1786.73 956.4,1786.73" fill="#000"/>
<polygon points="998.3,1565.79 1006.2,1581.39 990.4,1581.39" fill="#000"/>
<polygon points="994.7,1584.46 1002.6,1600.06 986.8,1600.06" fill="#000"/>
<polygon points="1001.6,1584.46 1009.5,1600.06 993.7,1600.06" fill="#000"/>
<polygon points="1051,1733.8 1058.8,1741.6 1051,1749.4 1043.2,1741.6" fill="#000"/>
<polygon points="1057.6,1733.8 1065.4,1741.6 1057.6,1749.4 1049.8,1741.6" fill="#000"/>
<polygon points="1054.3,1752.46 1062.1,1760.26 1054.3,1768.06 1046.5,1760.26" fill="#000"/>
<polygon points="1088.1,1603.13 1095.9,1610.93 1088.1,1618.73 1080.3,1610.93" fill="#000"/>
<polygon points="1088.1,1621.8 1095.9,1629.6 1088.1,1637.4 1080.3,1629.6" fill="#000"/>
<polygon points="1088.1,1733.8 1095.9,1741.6 1088.1,1749.4 1080.3,1741.6" fill="#000"/>
<polygon points="1121.5,1584.46 1129.3,1592.26 1121.5,1600.06 1113.7,1592.26" fill="#000"/>
<polygon points="1121.5,1640.46 1129.3,1648.26 1121.5,1656.06 1113.7,1648.26" fill="#000"/>
<polygon points="1121.5,1659.13 1129.3,1666.93 1121.5,1674.73 1113.7,1666.93" fill="#000"/>
<polygon points="1152.2,1584.46 1160,1592.26 1152.2,1600.06 1144.4,1592.26" fill="#000"/>
<polygon points="1158.9,1584.46 1166.7,1592.26 1158.9,1600.06 1151.1,1592.26" fill="#000"/>
<polygon points="1155.4,1603.13 1163.2,1610.93 1155.4,1618.73 1147.6,1610.93" fill="#000"/>
<polygon points="1208.3,1749.4 1216.2,1733.8 1200.4,1733.8" fill="#000"/>
<polygon points="1215.4,1749.4 1223.3,1733.8 1207.5,1733.8" fill="#000"/>
<polygon points="1211.6,1786.73 1219.5,1771.13 1203.7,1771.13" fill="#000"/>
<polygon points="1245.5,1618.73 1253.4,1603.13 1237.6,1603.13" fill="#000"/>
<polygon points="1245.5,1674.73 1253.4,1659.13 1237.6,1659.13" fill="#000"/>
<polygon points="1245.5,1730.73 1253.4,1715.13 1237.6,1715.13" fill="#000"/>
<polygon points="1278.9,1600.06 1286.8,1584.46 1271,1584.46" fill="#000"/>
<polygon points="1278.9,1637.4 1286.8,1621.8 1271,1621.8" fill="#000"/>
<polygon points="1278.9,1656.06 1286.8,1640.46 1271,1640.46" fill="#000"/>
<polygon points="1309.5,1600.06 1317.4,1584.46 1301.6,1584.46" fill="#000"/>
<polygon points="1316.2,1600.06 1324.1,1584.46 1308.3,1584.46" fill="#000"/>
<polygon points="1312.8,1618.73 1320.7,1603.13 1304.9,1603.13" fill="#000"/>
<circle cx="1365.9" cy="1853.6" r="7.85" fill="none" stroke="#000" stroke-width="1.9"/>
<circle cx="1368" cy="1853.6" r="7.85" fill="none" stroke="#000" stroke-width="1.9"/>
<circle cx="1370.2" cy="1853.6" r="7.85" fill="none" stroke="#000" stroke-width="1.9"/>
<circle cx="1372.3" cy="1853.6" r="7.85" fill="none" stroke="#000" stroke-width="1.9"/>
<circle cx="1399.5" cy="1853.6" r="7.85" fill="none" stroke="#000" stroke-width="1.9"/>
<circle cx="1401.6" cy="1853.6" r="7.85" fill="none" stroke="#000" stroke-width="1.9"/>
<circle cx="1403.6" cy="1853.6" r="7.85" fill="none" stroke="#000" stroke-width="1.9"/>
<circle cx="1405.6" cy="1853.6" r="7.85" fill="none" stroke="#000" stroke-width="1.9"/>
<circle cx="1432.9" cy="1853.6" r="7.85" fill="none" stroke="#000" stroke-width="1.9"/>
<circle cx="1439.8" cy="1853.6" r="7.85" fill="none" stroke="#000" stroke-width="1.9"/>
<circle cx="1436.3" cy="1797.6" r="7.8" fill="#000"/>
<circle cx="1466.8" cy="1853.6" r="7.85" fill="none" stroke="#000" stroke-width="1.9"/>
<circle cx="1468.9" cy="1853.6" r="7.85" fill="none" stroke="#000" stroke-width="1.9"/>
<circle cx="1471.1" cy="1853.6" r="7.85" fill="none" stroke="#000" stroke-width="1.9"/>
<circle cx="1473.2" cy="1853.6" r="7.85" fill="none" stroke="#000" stroke-width="1.9"/>
<rect x="725.8" y="1683.3" width="28.2" height="4.6" fill="#ff0000"/>
<rect x="759.2" y="1757.96" width="28.2" height="4.6" fill="#ff0000"/>
<rect x="793.2" y="1720.63" width="28.2" height="4.6" fill="#ff0000"/>
<rect x="826.8" y="1608.63" width="28.2" height="4.6" fill="#ff0000"/>
<rect x="883" y="1739.3" width="28.2" height="4.6" fill="#ff0000"/>
<rect x="916.7" y="1739.3" width="28.2" height="4.6" fill="#ff0000"/>
<rect x="950.2" y="1627.3" width="28.2" height="4.6" fill="#ff0000"/>
<rect x="984" y="1589.96" width="28.2" height="4.6" fill="#ff0000"/>
<rect x="1040" y="1739.3" width="28.2" height="4.6" fill="#ff0000"/>
<rect x="1074" y="1627.3" width="28.2" height="4.6" fill="#ff0000"/>
<rect x="1107.4" y="1645.96" width="28.2" height="4.6" fill="#ff0000"/>
<rect x="1141.3" y="1589.96" width="28.2" height="4.6" fill="#ff0000"/>
<rect x="1197.7" y="1739.3" width="28.2" height="4.6" fill="#ff0000"/>
<rect x="1231.4" y="1664.63" width="28.2" height="4.6" fill="#ff0000"/>
<rect x="1264.8" y="1627.3" width="28.2" height="4.6" fill="#ff0000"/>
<rect x="1298.7" y="1589.96" width="28.2" height="4.6" fill="#ff0000"/>
<rect x="1354.8" y="1851.3" width="28.2" height="4.6" fill="#ff0000"/>
<rect x="1388.4" y="1851.3" width="28.2" height="4.6" fill="#ff0000"/>
<rect x="1422.1" y="1851.3" width="28.2" height="4.6" fill="#ff0000"/>
<rect x="1455.9" y="1851.3" width="28.2" height="4.6" fill="#ff0000"/>
<text x="630.9" y="1764.68" font-size="24" font-weight="bold" transform="rotate(-90 630.9 1764.68)" textLength="146.2" lengthAdjust="spacingAndGlyphs">Sum of LRT</text>
<text x="660.8" y="1827.38" font-size="24" font-weight="bold" transform="rotate(-90 660.8 1827.38)" textLength="271.57" lengthAdjust="spacingAndGlyphs">histopathology scores</text>
<line x1="717.7" y1="2018.11" x2="717.7" y2="2374.6" stroke="#000" stroke-width="2.2" />
<line x1="716.5" y1="2373.5" x2="1493.6" y2="2373.5" stroke="#000" stroke-width="2.2" />
<line x1="707.7" y1="2329.2" x2="717.7" y2="2329.2" stroke="#000" stroke-width="2.2" />
<text x="694.48" y="2336.62" font-size="21.2" font-weight="bold" textLength="11.79" lengthAdjust="spacingAndGlyphs">0</text>
<line x1="707.7" y1="2240.63" x2="717.7" y2="2240.63" stroke="#000" stroke-width="2.2" />
<text x="694.16" y="2248.05" font-size="21.2" font-weight="bold" textLength="11.79" lengthAdjust="spacingAndGlyphs">1</text>
<line x1="707.7" y1="2152.06" x2="717.7" y2="2152.06" stroke="#000" stroke-width="2.2" />
<text x="694.48" y="2159.48" font-size="21.2" font-weight="bold" textLength="11.79" lengthAdjust="spacingAndGlyphs">2</text>
<line x1="707.7" y1="2063.49" x2="717.7" y2="2063.49" stroke="#000" stroke-width="2.2" />
<text x="694.38" y="2070.91" font-size="21.2" font-weight="bold" textLength="11.79" lengthAdjust="spacingAndGlyphs">3</text>
<line x1="739.4" y1="2373.5" x2="739.4" y2="2382.5" stroke="#000" stroke-width="2.2" />
<text x="732.52" y="2408" font-size="25" font-weight="bold" textLength="13.9" lengthAdjust="spacingAndGlyphs">2</text>
<line x1="773.05" y1="2373.5" x2="773.05" y2="2382.5" stroke="#000" stroke-width="2.2" />
<text x="766.24" y="2408" font-size="25" font-weight="bold" textLength="13.9" lengthAdjust="spacingAndGlyphs">3</text>
<line x1="806.7" y1="2373.5" x2="806.7" y2="2382.5" stroke="#000" stroke-width="2.2" />
<text x="799.64" y="2408" font-size="25" font-weight="bold" textLength="13.9" lengthAdjust="spacingAndGlyphs">4</text>
<line x1="840.35" y1="2373.5" x2="840.35" y2="2382.5" stroke="#000" stroke-width="2.2" />
<text x="833.41" y="2408" font-size="25" font-weight="bold" textLength="13.9" lengthAdjust="spacingAndGlyphs">7</text>
<line x1="896.7" y1="2373.5" x2="896.7" y2="2382.5" stroke="#000" stroke-width="2.2" />
<text x="889.83" y="2408" font-size="25" font-weight="bold" textLength="13.9" lengthAdjust="spacingAndGlyphs">2</text>
<line x1="930.35" y1="2373.5" x2="930.35" y2="2382.5" stroke="#000" stroke-width="2.2" />
<text x="923.54" y="2408" font-size="25" font-weight="bold" textLength="13.9" lengthAdjust="spacingAndGlyphs">3</text>
<line x1="964" y1="2373.5" x2="964" y2="2382.5" stroke="#000" stroke-width="2.2" />
<text x="956.94" y="2408" font-size="25" font-weight="bold" textLength="13.9" lengthAdjust="spacingAndGlyphs">4</text>
<line x1="997.65" y1="2373.5" x2="997.65" y2="2382.5" stroke="#000" stroke-width="2.2" />
<text x="990.71" y="2408" font-size="25" font-weight="bold" textLength="13.9" lengthAdjust="spacingAndGlyphs">7</text>
<line x1="1054" y1="2373.5" x2="1054" y2="2382.5" stroke="#000" stroke-width="2.2" />
<text x="1047.12" y="2408" font-size="25" font-weight="bold" textLength="13.9" lengthAdjust="spacingAndGlyphs">2</text>
<line x1="1087.65" y1="2373.5" x2="1087.65" y2="2382.5" stroke="#000" stroke-width="2.2" />
<text x="1080.84" y="2408" font-size="25" font-weight="bold" textLength="13.9" lengthAdjust="spacingAndGlyphs">3</text>
<line x1="1121.3" y1="2373.5" x2="1121.3" y2="2382.5" stroke="#000" stroke-width="2.2" />
<text x="1114.24" y="2408" font-size="25" font-weight="bold" textLength="13.9" lengthAdjust="spacingAndGlyphs">4</text>
<line x1="1154.95" y1="2373.5" x2="1154.95" y2="2382.5" stroke="#000" stroke-width="2.2" />
<text x="1148.01" y="2408" font-size="25" font-weight="bold" textLength="13.9" lengthAdjust="spacingAndGlyphs">7</text>
<line x1="1211.3" y1="2373.5" x2="1211.3" y2="2382.5" stroke="#000" stroke-width="2.2" />
<text x="1204.42" y="2408" font-size="25" font-weight="bold" textLength="13.9" lengthAdjust="spacingAndGlyphs">2</text>
<line x1="1244.95" y1="2373.5" x2="1244.95" y2="2382.5" stroke="#000" stroke-width="2.2" />
<text x="1238.14" y="2408" font-size="25" font-weight="bold" textLength="13.9" lengthAdjust="spacingAndGlyphs">3</text>
<line x1="1278.6" y1="2373.5" x2="1278.6" y2="2382.5" stroke="#000" stroke-width="2.2" />
<text x="1271.54" y="2408" font-size="25" font-weight="bold" textLength="13.9" lengthAdjust="spacingAndGlyphs">4</text>
<line x1="1312.25" y1="2373.5" x2="1312.25" y2="2382.5" stroke="#000" stroke-width="2.2" />
<text x="1305.31" y="2408" font-size="25" font-weight="bold" textLength="13.9" lengthAdjust="spacingAndGlyphs">7</text>
<line x1="1368.6" y1="2373.5" x2="1368.6" y2="2382.5" stroke="#000" stroke-width="2.2" />
<text x="1361.72" y="2408" font-size="25" font-weight="bold" textLength="13.9" lengthAdjust="spacingAndGlyphs">2</text>
<line x1="1402.25" y1="2373.5" x2="1402.25" y2="2382.5" stroke="#000" stroke-width="2.2" />
<text x="1395.44" y="2408" font-size="25" font-weight="bold" textLength="13.9" lengthAdjust="spacingAndGlyphs">3</text>
<line x1="1435.9" y1="2373.5" x2="1435.9" y2="2382.5" stroke="#000" stroke-width="2.2" />
<text x="1428.84" y="2408" font-size="25" font-weight="bold" textLength="13.9" lengthAdjust="spacingAndGlyphs">4</text>
<line x1="1469.55" y1="2373.5" x2="1469.55" y2="2382.5" stroke="#000" stroke-width="2.2" />
<text x="1462.61" y="2408" font-size="25" font-weight="bold" textLength="13.9" lengthAdjust="spacingAndGlyphs">7</text>
<text x="577.7" y="2409.8" font-size="24" font-weight="bold" textLength="123.27" lengthAdjust="spacingAndGlyphs">Days p.i. :</text>
<rect x="731.8" y="2428.25" width="120" height="3.7" fill="#000"/>
<rect x="886" y="2428.25" width="120" height="3.7" fill="#000"/>
<rect x="1042.6" y="2428.25" width="120.1" height="3.7" fill="#000"/>
<rect x="1199.9" y="2428.25" width="120.3" height="3.7" fill="#000"/>
<rect x="1358" y="2428.25" width="120.5" height="3.7" fill="#000"/>
<text x="484.81" y="2477.7" font-size="24" font-weight="bold" textLength="214.73" lengthAdjust="spacingAndGlyphs">Inoculation dose:</text>
<text x="726.07" y="2478.6" font-size="24" textLength="125.7" lengthAdjust="spacingAndGlyphs">10<tspan font-size="17" dy="-10.6">2</tspan><tspan dy="10.6"> TCID</tspan><tspan font-size="17" dy="5">50</tspan></text>
<text x="897.06" y="2478.6" font-size="24" textLength="141.61" lengthAdjust="spacingAndGlyphs">10<tspan font-size="17" dy="-10.6">3.3</tspan><tspan dy="10.6"> TCID</tspan><tspan font-size="17" dy="5">50</tspan></text>
<text x="1053.87" y="2478.6" font-size="24" textLength="140.8" lengthAdjust="spacingAndGlyphs">10<tspan font-size="17" dy="-10.6">4.6</tspan><tspan dy="10.6"> TCID</tspan><tspan font-size="17" dy="5">50</tspan></text>
<text x="1209.78" y="2478.6" font-size="24" textLength="140.59" lengthAdjust="spacingAndGlyphs">10<tspan font-size="17" dy="-10.6">5.9</tspan><tspan dy="10.6"> TCID</tspan><tspan font-size="17" dy="5">50</tspan></text>
<text x="1389.77" y="2461.4" font-size="24" textLength="59.81" lengthAdjust="spacingAndGlyphs">mock</text>
<text x="1366.06" y="2490.4" font-size="24" textLength="108.41" lengthAdjust="spacingAndGlyphs">challenge</text>
<line x1="724.2" y1="2063.49" x2="1490" y2="2063.49" stroke="#000" stroke-width="2.5" stroke-linecap="round" stroke-dasharray="0 6.65"/>
<line x1="724.2" y1="2329.2" x2="1490" y2="2329.2" stroke="#000" stroke-width="2.5" stroke-linecap="round" stroke-dasharray="0 6.65"/>
<rect x="729.4" y="2055.69" width="15.6" height="15.6" fill="#000"/>
<rect x="731.5" y="2055.69" width="15.6" height="15.6" fill="#000"/>
<rect x="733.7" y="2055.69" width="15.6" height="15.6" fill="#000"/>
<rect x="735.8" y="2055.69" width="15.6" height="15.6" fill="#000"/>
<rect x="763" y="2055.69" width="15.6" height="15.6" fill="#000"/>
<rect x="765.1" y="2055.69" width="15.6" height="15.6" fill="#000"/>
<rect x="767.3" y="2055.69" width="15.6" height="15.6" fill="#000"/>
<rect x="769.4" y="2055.69" width="15.6" height="15.6" fill="#000"/>
<rect x="796.2" y="2055.69" width="15.6" height="15.6" fill="#000"/>
<rect x="798.3" y="2055.69" width="15.6" height="15.6" fill="#000"/>
<rect x="800.5" y="2055.69" width="15.6" height="15.6" fill="#000"/>
<rect x="802.6" y="2055.69" width="15.6" height="15.6" fill="#000"/>
<rect x="833.2" y="2055.69" width="15.6" height="15.6" fill="#000"/>
<rect x="829.6" y="2144.26" width="15.6" height="15.6" fill="#000"/>
<rect x="833" y="2144.26" width="15.6" height="15.6" fill="#000"/>
<rect x="836.4" y="2144.26" width="15.6" height="15.6" fill="#000"/>
<polygon points="893.6,2055.69 901.5,2071.29 885.7,2071.29" fill="#000"/>
<polygon points="900,2055.69 907.9,2071.29 892.1,2071.29" fill="#000"/>
<polygon points="897,2144.26 904.9,2159.86 889.1,2159.86" fill="#000"/>
<polygon points="928,2055.69 935.9,2071.29 920.1,2071.29" fill="#000"/>
<polygon points="931,2055.69 938.9,2071.29 923.1,2071.29" fill="#000"/>
<polygon points="934,2055.69 941.9,2071.29 926.1,2071.29" fill="#000"/>
<polygon points="962,2055.69 969.9,2071.29 954.1,2071.29" fill="#000"/>
<polygon points="965,2055.69 972.9,2071.29 957.1,2071.29" fill="#000"/>
<polygon points="968,2055.69 975.9,2071.29 960.1,2071.29" fill="#000"/>
<polygon points="995,2144.26 1002.9,2159.86 987.1,2159.86" fill="#000"/>
<polygon points="998,2144.26 1005.9,2159.86 990.1,2159.86" fill="#000"/>
<polygon points="1001,2144.26 1008.9,2159.86 993.1,2159.86" fill="#000"/>
<polygon points="1050.8,2055.69 1058.6,2063.49 1050.8,2071.29 1043,2063.49" fill="#000"/>
<polygon points="1054.3,2055.69 1062.1,2063.49 1054.3,2071.29 1046.5,2063.49" fill="#000"/>
<polygon points="1057.6,2055.69 1065.4,2063.49 1057.6,2071.29 1049.8,2063.49" fill="#000"/>
<polygon points="1084.5,2055.69 1092.3,2063.49 1084.5,2071.29 1076.7,2063.49" fill="#000"/>
<polygon points="1087.9,2055.69 1095.7,2063.49 1087.9,2071.29 1080.1,2063.49" fill="#000"/>
<polygon points="1091.3,2055.69 1099.1,2063.49 1091.3,2071.29 1083.5,2063.49" fill="#000"/>
<polygon points="1118.1,2055.69 1125.9,2063.49 1118.1,2071.29 1110.3,2063.49" fill="#000"/>
<polygon points="1121.5,2055.69 1129.3,2063.49 1121.5,2071.29 1113.7,2063.49" fill="#000"/>
<polygon points="1124.9,2055.69 1132.7,2063.49 1124.9,2071.29 1117.1,2063.49" fill="#000"/>
<polygon points="1152,2144.26 1159.8,2152.06 1152,2159.86 1144.2,2152.06" fill="#000"/>
<polygon points="1159,2144.26 1166.8,2152.06 1159,2159.86 1151.2,2152.06" fill="#000"/>
<polygon points="1155.5,2232.83 1163.3,2240.63 1155.5,2248.43 1147.7,2240.63" fill="#000"/>
<polygon points="1208,2071.29 1215.9,2055.69 1200.1,2055.69" fill="#000"/>
<polygon points="1211.5,2071.29 1219.4,2055.69 1203.6,2055.69" fill="#000"/>
<polygon points="1215,2071.29 1222.9,2055.69 1207.1,2055.69" fill="#000"/>
<polygon points="1241.6,2071.29 1249.5,2055.69 1233.7,2055.69" fill="#000"/>
<polygon points="1245.1,2071.29 1253,2055.69 1237.2,2055.69" fill="#000"/>
<polygon points="1248.6,2071.29 1256.5,2055.69 1240.7,2055.69" fill="#000"/>
<polygon points="1275.3,2071.29 1283.2,2055.69 1267.4,2055.69" fill="#000"/>
<polygon points="1278.8,2071.29 1286.7,2055.69 1270.9,2055.69" fill="#000"/>
<polygon points="1282.3,2071.29 1290.2,2055.69 1274.4,2055.69" fill="#000"/>
<polygon points="1313,2071.29 1320.9,2055.69 1305.1,2055.69" fill="#000"/>
<polygon points="1309.5,2159.86 1317.4,2144.26 1301.6,2144.26" fill="#000"/>
<polygon points="1316.4,2159.86 1324.3,2144.26 1308.5,2144.26" fill="#000"/>
<circle cx="1365.5" cy="2240.63" r="7.8" fill="#000"/>
<circle cx="1372.5" cy="2240.63" r="7.8" fill="#000"/>
<circle cx="1368.9" cy="2329.2" r="7.8" fill="#000"/>
<circle cx="1399.5" cy="2329.2" r="7.8" fill="#000"/>
<circle cx="1405.5" cy="2329.2" r="7.8" fill="#000"/>
<circle cx="1433" cy="2240.63" r="7.8" fill="#000"/>
<circle cx="1440" cy="2240.63" r="7.8" fill="#000"/>
<circle cx="1436.4" cy="2329.2" r="7.8" fill="#000"/>
<circle cx="1466.2" cy="2240.63" r="7.8" fill="#000"/>
<circle cx="1473.2" cy="2240.63" r="7.8" fill="#000"/>
<circle cx="1469.7" cy="2329.2" r="7.8" fill="#000"/>
<rect x="725.5" y="2061.19" width="28.2" height="4.6" fill="#ff0000"/>
<rect x="759.5" y="2061.19" width="28.2" height="4.6" fill="#ff0000"/>
<rect x="793.2" y="2061.19" width="28.2" height="4.6" fill="#ff0000"/>
<rect x="826.7" y="2149.76" width="28.2" height="4.6" fill="#ff0000"/>
<rect x="882.6" y="2061.19" width="28.2" height="4.6" fill="#ff0000"/>
<rect x="916.7" y="2061.19" width="28.2" height="4.6" fill="#ff0000"/>
<rect x="950.4" y="2061.19" width="28.2" height="4.6" fill="#ff0000"/>
<rect x="983.7" y="2149.76" width="28.2" height="4.6" fill="#ff0000"/>
<rect x="1039.9" y="2061.19" width="28.2" height="4.6" fill="#ff0000"/>
<rect x="1073.8" y="2061.19" width="28.2" height="4.6" fill="#ff0000"/>
<rect x="1107.4" y="2061.19" width="28.2" height="4.6" fill="#ff0000"/>
<rect x="1141.4" y="2149.76" width="28.2" height="4.6" fill="#ff0000"/>
<rect x="1197.4" y="2061.19" width="28.2" height="4.6" fill="#ff0000"/>
<rect x="1230.9" y="2061.19" width="28.2" height="4.6" fill="#ff0000"/>
<rect x="1264.6" y="2061.19" width="28.2" height="4.6" fill="#ff0000"/>
<rect x="1298.7" y="2149.76" width="28.2" height="4.6" fill="#ff0000"/>
<rect x="1354.8" y="2238.33" width="28.2" height="4.6" fill="#ff0000"/>
<rect x="1388.4" y="2326.9" width="28.2" height="4.6" fill="#ff0000"/>
<rect x="1422.2" y="2238.33" width="28.2" height="4.6" fill="#ff0000"/>
<rect x="1455.8" y="2238.33" width="28.2" height="4.6" fill="#ff0000"/>
<text x="670.6" y="2312.79" font-size="24.5" font-weight="bold" transform="rotate(-90 670.6 2312.79)" textLength="230.64" lengthAdjust="spacingAndGlyphs">Severity of rhinitis</text>
<line x1="707" y1="1031.2" x2="707" y2="1425.8" stroke="#000" stroke-width="2.2" />
<line x1="696.5" y1="1424.7" x2="1519" y2="1424.7" stroke="#000" stroke-width="2.2" />
<line x1="696.7" y1="1424.7" x2="707" y2="1424.7" stroke="#000" stroke-width="2.2" />
<text x="660.04" y="1433.1" font-size="24" font-weight="bold" textLength="33.36" lengthAdjust="spacingAndGlyphs">1.5</text>
<line x1="696.7" y1="1359.3" x2="707" y2="1359.3" stroke="#000" stroke-width="2.2" />
<text x="660.4" y="1367.7" font-size="24" font-weight="bold" textLength="33.36" lengthAdjust="spacingAndGlyphs">2.0</text>
<line x1="696.7" y1="1293.9" x2="707" y2="1293.9" stroke="#000" stroke-width="2.2" />
<text x="660.04" y="1302.3" font-size="24" font-weight="bold" textLength="33.36" lengthAdjust="spacingAndGlyphs">2.5</text>
<line x1="696.7" y1="1228.5" x2="707" y2="1228.5" stroke="#000" stroke-width="2.2" />
<text x="660.4" y="1236.9" font-size="24" font-weight="bold" textLength="33.36" lengthAdjust="spacingAndGlyphs">3.0</text>
<line x1="696.7" y1="1163.1" x2="707" y2="1163.1" stroke="#000" stroke-width="2.2" />
<text x="660.04" y="1171.5" font-size="24" font-weight="bold" textLength="33.36" lengthAdjust="spacingAndGlyphs">3.5</text>
<line x1="696.7" y1="1097.7" x2="707" y2="1097.7" stroke="#000" stroke-width="2.2" />
<text x="660.4" y="1106.1" font-size="24" font-weight="bold" textLength="33.36" lengthAdjust="spacingAndGlyphs">4.0</text>
<line x1="696.7" y1="1032.3" x2="707" y2="1032.3" stroke="#000" stroke-width="2.2" />
<text x="660.04" y="1040.7" font-size="24" font-weight="bold" textLength="33.36" lengthAdjust="spacingAndGlyphs">4.5</text>
<line x1="701.5" y1="1392" x2="707" y2="1392" stroke="#000" stroke-width="2.2" />
<line x1="701.5" y1="1326.6" x2="707" y2="1326.6" stroke="#000" stroke-width="2.2" />
<line x1="701.5" y1="1261.2" x2="707" y2="1261.2" stroke="#000" stroke-width="2.2" />
<line x1="701.5" y1="1195.8" x2="707" y2="1195.8" stroke="#000" stroke-width="2.2" />
<line x1="701.5" y1="1130.4" x2="707" y2="1130.4" stroke="#000" stroke-width="2.2" />
<line x1="701.5" y1="1065" x2="707" y2="1065" stroke="#000" stroke-width="2.2" />
<line x1="780.2" y1="1424.7" x2="780.2" y2="1434.7" stroke="#000" stroke-width="2.2" />
<text x="773.36" y="1460" font-size="24" font-weight="bold" textLength="13.35" lengthAdjust="spacingAndGlyphs">1</text>
<line x1="890.85" y1="1424.7" x2="890.85" y2="1434.7" stroke="#000" stroke-width="2.2" />
<text x="884.55" y="1460" font-size="24" font-weight="bold" textLength="13.35" lengthAdjust="spacingAndGlyphs">2</text>
<line x1="1001.5" y1="1424.7" x2="1001.5" y2="1434.7" stroke="#000" stroke-width="2.2" />
<text x="995.26" y="1460" font-size="24" font-weight="bold" textLength="13.35" lengthAdjust="spacingAndGlyphs">3</text>
<line x1="1112.15" y1="1424.7" x2="1112.15" y2="1434.7" stroke="#000" stroke-width="2.2" />
<text x="1105.67" y="1460" font-size="24" font-weight="bold" textLength="13.35" lengthAdjust="spacingAndGlyphs">4</text>
<line x1="1222.8" y1="1424.7" x2="1222.8" y2="1434.7" stroke="#000" stroke-width="2.2" />
<text x="1216.38" y="1460" font-size="24" font-weight="bold" textLength="13.35" lengthAdjust="spacingAndGlyphs">5</text>
<line x1="1333.45" y1="1424.7" x2="1333.45" y2="1434.7" stroke="#000" stroke-width="2.2" />
<text x="1327.09" y="1460" font-size="24" font-weight="bold" textLength="13.35" lengthAdjust="spacingAndGlyphs">6</text>
<line x1="1444.1" y1="1424.7" x2="1444.1" y2="1434.7" stroke="#000" stroke-width="2.2" />
<text x="1437.74" y="1460" font-size="24" font-weight="bold" textLength="13.35" lengthAdjust="spacingAndGlyphs">7</text>
<text x="978.65" y="1499.1" font-size="22" textLength="220.17" lengthAdjust="spacingAndGlyphs">Days post inoculation</text>
<text x="598.4" y="1378.78" font-size="27" font-weight="bold" transform="rotate(-90 598.4 1378.78)" textLength="310.58" lengthAdjust="spacingAndGlyphs">Throat swabs viral load</text>
<text x="630.9" y="1339.33" font-size="27" font-weight="bold" transform="rotate(-90 630.9 1339.33)" textLength="232.5" lengthAdjust="spacingAndGlyphs">(Log<tspan font-size="19" dy="6">10</tspan><tspan dy="-6"> TCID</tspan><tspan font-size="19" dy="6">50</tspan><tspan dy="-6">/ml)</tspan></text>
<polyline points="780.2,1385.46 890.85,1385.46 1001.5,1385.46 1112.15,1385.46 1222.8,1385.46 1333.45,1385.46 1444.1,1385.46" fill="none" stroke="#000" stroke-width="4.3" stroke-linejoin="round"/>
<polygon points="780.2,1376.96 788.7,1385.46 780.2,1393.96 771.7,1385.46" fill="#fff" stroke="#000" stroke-width="2.0"/>
<polygon points="890.85,1376.96 899.35,1385.46 890.85,1393.96 882.35,1385.46" fill="#fff" stroke="#000" stroke-width="2.0"/>
<polygon points="1001.5,1376.96 1010,1385.46 1001.5,1393.96 993,1385.46" fill="#fff" stroke="#000" stroke-width="2.0"/>
<polygon points="1112.15,1376.96 1120.65,1385.46 1112.15,1393.96 1103.65,1385.46" fill="#fff" stroke="#000" stroke-width="2.0"/>
<polygon points="1222.8,1376.96 1231.3,1385.46 1222.8,1393.96 1214.3,1385.46" fill="#fff" stroke="#000" stroke-width="2.0"/>
<polygon points="1333.45,1376.96 1341.95,1385.46 1333.45,1393.96 1324.95,1385.46" fill="#fff" stroke="#000" stroke-width="2.0"/>
<polygon points="1444.1,1376.96 1452.6,1385.46 1444.1,1393.96 1435.6,1385.46" fill="#fff" stroke="#000" stroke-width="2.0"/>
<polyline points="780.2,1187.95 890.85,1359.3 1001.5,1385.46 1112.15,1385.46 1222.8,1385.46 1333.45,1385.46 1444.1,1385.46" fill="none" stroke="#b558dc" stroke-width="4.3" stroke-linejoin="round" stroke-dasharray="7.1 11.8" stroke-linecap="round"/>
<line x1="780.2" y1="1058.46" x2="780.2" y2="1187.95" stroke="#9a00d8" stroke-width="2.3" />
<line x1="771.6" y1="1058.46" x2="788.8" y2="1058.46" stroke="#9a00d8" stroke-width="2.7" />
<polygon points="780.2,1195.45 788.85,1180.45 771.55,1180.45" fill="#9a00d8"/>
<polygon points="890.85,1366.8 899.5,1351.8 882.2,1351.8" fill="#9a00d8"/>
<polygon points="1001.5,1392.96 1010.15,1377.96 992.85,1377.96" fill="#9a00d8"/>
<polygon points="1112.15,1392.96 1120.8,1377.96 1103.5,1377.96" fill="#9a00d8"/>
<polygon points="1222.8,1392.96 1231.45,1377.96 1214.15,1377.96" fill="#9a00d8"/>
<polygon points="1333.45,1392.96 1342.1,1377.96 1324.8,1377.96" fill="#9a00d8"/>
<polygon points="1444.1,1392.96 1452.75,1377.96 1435.45,1377.96" fill="#9a00d8"/>
<polyline points="780.2,1123.86 890.85,1385.46 1001.5,1385.46 1112.15,1385.46 1222.8,1385.46 1333.45,1385.46 1444.1,1385.46" fill="none" stroke="#0000ff" stroke-width="4.3" stroke-linejoin="round"/>
<line x1="780.2" y1="1123.86" x2="780.2" y2="1254.66" stroke="#0000ff" stroke-width="2.3" />
<line x1="771.6" y1="1254.66" x2="788.8" y2="1254.66" stroke="#0000ff" stroke-width="2.7" />
<line x1="890.85" y1="1254.66" x2="890.85" y2="1385.46" stroke="#0000ff" stroke-width="2.3" />
<line x1="882.25" y1="1254.66" x2="899.45" y2="1254.66" stroke="#0000ff" stroke-width="2.7" />
<rect x="771.6" y="1115.26" width="17.2" height="17.2" fill="#0000ff"/>
<rect x="882.25" y="1376.86" width="17.2" height="17.2" fill="#0000ff"/>
<rect x="992.9" y="1376.86" width="17.2" height="17.2" fill="#0000ff"/>
<rect x="1103.55" y="1376.86" width="17.2" height="17.2" fill="#0000ff"/>
<rect x="1214.2" y="1376.86" width="17.2" height="17.2" fill="#0000ff"/>
<rect x="1324.85" y="1376.86" width="17.2" height="17.2" fill="#0000ff"/>
<rect x="1435.5" y="1376.86" width="17.2" height="17.2" fill="#0000ff"/>
<polyline points="780.2,1210.19 890.85,1372.38 1001.5,1385.46 1112.15,1385.46 1222.8,1385.46 1333.45,1385.46 1444.1,1385.46" fill="none" stroke="#008000" stroke-width="4.3" stroke-linejoin="round" stroke-dasharray="7.1 11.8" stroke-linecap="round"/>
<line x1="780.2" y1="1097.7" x2="780.2" y2="1210.19" stroke="#008000" stroke-width="2.3" />
<line x1="771.6" y1="1097.7" x2="788.8" y2="1097.7" stroke="#008000" stroke-width="2.7" />
<line x1="890.85" y1="1123.86" x2="890.85" y2="1372.38" stroke="#008000" stroke-width="2.3" />
<line x1="882.25" y1="1123.86" x2="899.45" y2="1123.86" stroke="#008000" stroke-width="2.7" />
<line x1="1001.5" y1="1189.26" x2="1001.5" y2="1385.46" stroke="#008000" stroke-width="2.3" />
<line x1="992.9" y1="1189.26" x2="1010.1" y2="1189.26" stroke="#008000" stroke-width="2.7" />
<line x1="1112.15" y1="1320.06" x2="1112.15" y2="1385.46" stroke="#008000" stroke-width="2.3" />
<line x1="1103.55" y1="1320.06" x2="1120.75" y2="1320.06" stroke="#008000" stroke-width="2.7" />
<polygon points="780.2,1202.44 788.85,1217.94 771.55,1217.94" fill="#008000"/>
<polygon points="890.85,1364.63 899.5,1380.13 882.2,1380.13" fill="#008000"/>
<polygon points="1001.5,1377.71 1010.15,1393.21 992.85,1393.21" fill="#008000"/>
<polygon points="1112.15,1377.71 1120.8,1393.21 1103.5,1393.21" fill="#008000"/>
<polygon points="1222.8,1377.71 1231.45,1393.21 1214.15,1393.21" fill="#008000"/>
<polygon points="1333.45,1377.71 1342.1,1393.21 1324.8,1393.21" fill="#008000"/>
<polygon points="1444.1,1377.71 1452.75,1393.21 1435.45,1393.21" fill="#008000"/>
<polyline points="780.2,1359.3 890.85,1274.28 1001.5,1359.3 1112.15,1385.46 1222.8,1385.46 1333.45,1385.46 1444.1,1385.46" fill="none" stroke="#ff0000" stroke-width="4.3" stroke-linejoin="round"/>
<line x1="780.2" y1="1189.26" x2="780.2" y2="1385.46" stroke="#ff0000" stroke-width="2.3" />
<line x1="771.6" y1="1189.26" x2="788.8" y2="1189.26" stroke="#ff0000" stroke-width="2.7" />
<line x1="771.6" y1="1385.46" x2="788.8" y2="1385.46" stroke="#ff0000" stroke-width="2.7" />
<line x1="890.85" y1="1163.1" x2="890.85" y2="1385.46" stroke="#ff0000" stroke-width="2.3" />
<line x1="882.25" y1="1163.1" x2="899.45" y2="1163.1" stroke="#ff0000" stroke-width="2.7" />
<line x1="882.25" y1="1385.46" x2="899.45" y2="1385.46" stroke="#ff0000" stroke-width="2.7" />
<line x1="1001.5" y1="1293.9" x2="1001.5" y2="1385.46" stroke="#ff0000" stroke-width="2.3" />
<line x1="992.9" y1="1293.9" x2="1010.1" y2="1293.9" stroke="#ff0000" stroke-width="2.7" />
<circle cx="780.2" cy="1359.3" r="8.6" fill="#ff0000"/>
<circle cx="890.85" cy="1274.28" r="8.6" fill="#ff0000"/>
<circle cx="1001.5" cy="1359.3" r="8.6" fill="#ff0000"/>
<circle cx="1112.15" cy="1385.46" r="8.6" fill="#ff0000"/>
<circle cx="1222.8" cy="1385.46" r="8.6" fill="#ff0000"/>
<circle cx="1333.45" cy="1385.46" r="8.6" fill="#ff0000"/>
<circle cx="1444.1" cy="1385.46" r="8.6" fill="#ff0000"/>
<text x="1160.19" y="1056.9" font-size="22" textLength="340.31" lengthAdjust="spacingAndGlyphs">Inoculation dose ofSARS-CoV-2:</text>
<line x1="1179.5" y1="1089.7" x2="1236.7" y2="1089.7" stroke="#ff0000" stroke-width="4" />
<circle cx="1207.9" cy="1089.7" r="8.6" fill="#ff0000"/>
<line x1="1179.5" y1="1129.6" x2="1236.7" y2="1129.6" stroke="#008000" stroke-width="4" stroke-dasharray="11.1 7.8" stroke-dashoffset="3.3"/>
<polygon points="1207.9,1121.35 1217.15,1137.85 1198.65,1137.85" fill="#008000"/>
<line x1="1179.5" y1="1169.4" x2="1236.7" y2="1169.4" stroke="#0000ff" stroke-width="4" />
<rect x="1199.3" y="1160.8" width="17.2" height="17.2" fill="#0000ff"/>
<line x1="1179.5" y1="1209.6" x2="1236.7" y2="1209.6" stroke="#b558dc" stroke-width="4" stroke-dasharray="11.1 7.8" stroke-dashoffset="3.3"/>
<polygon points="1207.9,1217.6 1217.15,1201.6 1198.65,1201.6" fill="#9a00d8"/>
<line x1="1179.5" y1="1282.9" x2="1236.7" y2="1282.9" stroke="#000" stroke-width="4" />
<polygon points="1207.9,1274.4 1216.4,1282.9 1207.9,1291.4 1199.4,1282.9" fill="#fff" stroke="#000" stroke-width="2.0"/>
<text x="1250.43" y="1097.5" font-size="22" textLength="116.4" lengthAdjust="spacingAndGlyphs">10<tspan font-size="16" dy="-9.8">2</tspan><tspan dy="9.8"> TCID</tspan><tspan font-size="16" dy="4.8">50</tspan></text>
<text x="1250.43" y="1137.7" font-size="22" textLength="130.5" lengthAdjust="spacingAndGlyphs">10<tspan font-size="16" dy="-9.8">3.3</tspan><tspan dy="9.8"> TCID</tspan><tspan font-size="16" dy="4.8">50</tspan></text>
<text x="1250.43" y="1177.6" font-size="22" textLength="130.5" lengthAdjust="spacingAndGlyphs">10<tspan font-size="16" dy="-9.8">4.6</tspan><tspan dy="9.8"> TCID</tspan><tspan font-size="16" dy="4.8">50</tspan></text>
<text x="1250.43" y="1217" font-size="22" textLength="130.5" lengthAdjust="spacingAndGlyphs">10<tspan font-size="16" dy="-9.8">5.9</tspan><tspan dy="9.8"> TCID</tspan><tspan font-size="16" dy="4.8">50</tspan></text>
<text x="1250.37" y="1290.8" font-size="22" textLength="159.24" lengthAdjust="spacingAndGlyphs">Mock challenge</text>
</svg>
</body></html>
